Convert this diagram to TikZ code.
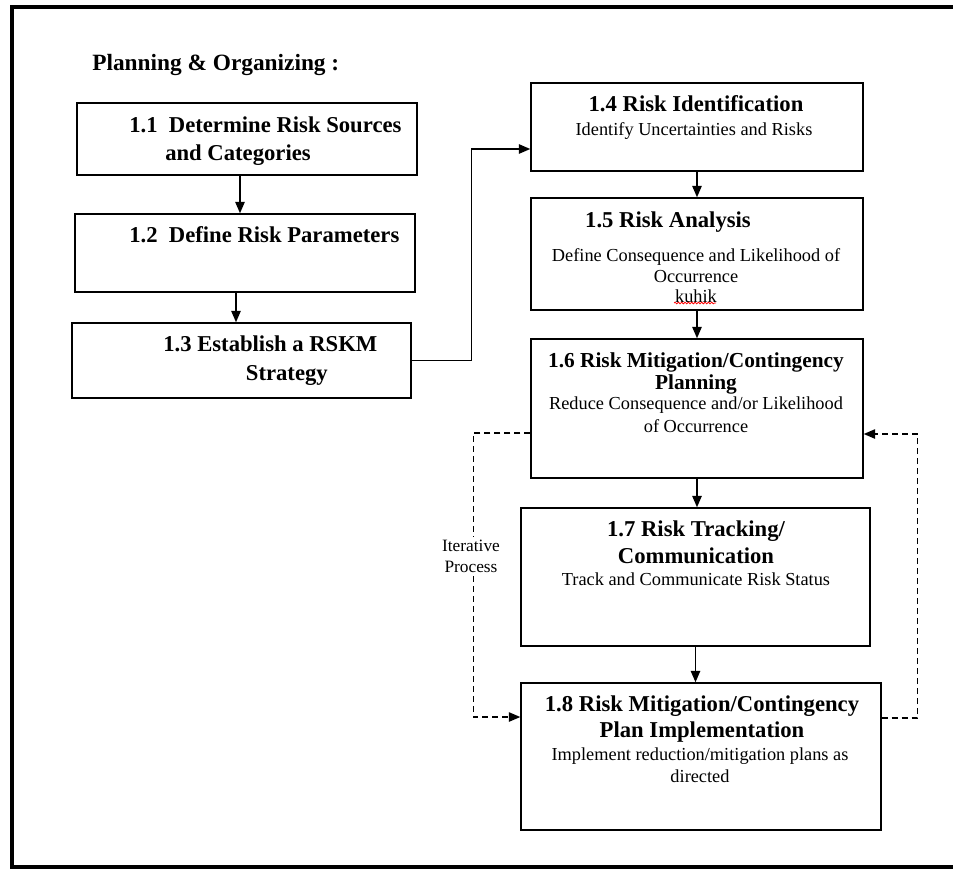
\documentclass[tikz,border=0pt]{standalone}
\usepackage{fontspec}
\setmainfont{Liberation Serif}
\usetikzlibrary{positioning,calc,arrows.meta,decorations.pathmorphing}

\tikzset{
  box/.style={draw, line width=1.1pt, inner sep=0pt},
  headtext/.style={inner sep=0pt, align=center, font=\bfseries\fontsize{17}{#1}\selectfont},
  headtext/.default=19.5,
  bodytext/.style={inner sep=0pt, align=center, font=\fontsize{13.75}{#1}\selectfont},
  bodytext/.default=15.4,
  flowarrow/.style={->, line width=1.1pt},
  iterline/.style={->, line width=1pt, dash pattern=on 4.5pt off 3pt},
}

\begin{document}
\begin{tikzpicture}[x=0.75pt, y=-0.75pt, >={Triangle[length=8.5pt,width=7pt]}]
  \useasboundingbox (0,0) rectangle (953,869);
  % outer frame (open on the right)
  \draw[line width=2.4pt] (953,7) -- (12,7) -- (12,867) -- (953,867);

  \node[anchor=north west, inner sep=0pt, font=\bfseries\fontsize{17.5}{20}\selectfont] (title) at (92,54) {Planning \& Organizing\ :};

  % boxes
  \foreach \n/\xa/\ya/\xb/\yb in {b11/77/103/417/175, b12/75/214/415/292, b13/72/323/411/398,
      b14/531/83/863/171, b15/531/198/863/310, b16/531/339/863/478,
      b17/521/508/870/646, b18/521/683/881/830}
    \node[box, minimum width={(\xb-\xa)*0.75pt}, minimum height={(\yb-\ya)*0.75pt}] (\n) at ({(\xa+\xb)/2},{(\ya+\yb)/2}) {};

  % left column
  \node[headtext=21, anchor=north west, align=left] (t11) at (129,116.5) {1.1\enspace Determine Risk Sources\\\hspace*{27pt}and Categories};
  \node[headtext, anchor=north west, align=left] (t12) at (129,226.5) {1.2\enspace Define Risk Parameters};
  \node[headtext=21.75, anchor=north west, align=left] (t13) at (163,335.5) {1.3 Establish a RSKM\\\hspace*{62pt}Strategy};

  % right column
  \node[headtext, anchor=north] (t14h) at (696,95.5) {1.4 Risk Identification};
  \node[bodytext, anchor=north] (t14b) at (694,122.7) {Identify Uncertainties and Risks};
  \node[headtext, anchor=north] (t15h) at (668,211.5) {1.5 Risk Analysis};
  \node[bodytext, anchor=north] (t15b) at (696,248.7) {Define Consequence and Likelihood of\\Occurrence\\kuhik};
  \draw[red, line width=0.6pt, decorate, decoration={snake, amplitude=0.6pt, segment length=2.5pt}] (674,303) -- (716,303);
  \node[headtext=16.5, anchor=north, font=\bfseries\fontsize{16}{16.5}\selectfont] (t16h) at (696,352.5) {1.6 Risk Mitigation/Contingency\\Planning};
  \node[bodytext=17.25, anchor=north] (t16b) at (696,396.7) {Reduce Consequence and/or Likelihood\\of Occurrence};
  \node[headtext=20.25, anchor=north] (t17h) at (696,520.5) {1.7 Risk Tracking/\\Communication};
  \node[bodytext, anchor=north] (t17b) at (696,572.7) {Track and Communicate Risk Status};
  \node[headtext, anchor=north] (t18h) at (702,695.5) {1.8 Risk Mitigation/Contingency\\Plan Implementation};
  \node[bodytext=16.5, anchor=north] (t18b) at (700,747.7) {Implement reduction/mitigation plans as\\directed};

  % arrows
  \foreach \a/\b/\dx in {b11/b12/-7, b12/b13/-9}
    \draw[flowarrow] ($(\a.south)+(\dx,0)$) coordinate (s\a) -- (s\a |- \b.north);
  \foreach \a/\b in {b14/b15, b15/b16, b16/b17, b17/b18}
    \draw[flowarrow] (\a.south) -- (\a.south |- \b.north);

  \coordinate (in14) at ($(b14.west)+(0,22)$);
  \draw[flowarrow] (b13.east) -- ++(60,0) |- (in14);

  % iterative loop
  \coordinate (out16) at ($(b16.west)+(0,24.5)$);
  \coordinate (in18) at ($(b18.west)+(0,-39.5)$);
  \draw[iterline] (out16) -- ++(-57,0) |- (in18);
  \coordinate (out18) at ($(b18.east)+(0,-38.5)$);
  \coordinate (in16) at ($(b16.east)+(0,25.5)$);
  \draw[iterline] (out18) -- ++(36,0) |- (in16);

  \node[fill=white, inner sep=2pt, align=center, font=\fontsize{13}{15.75}\selectfont] (iter) at (471,556) {Iterative\\Process};
\end{tikzpicture}
\end{document}
